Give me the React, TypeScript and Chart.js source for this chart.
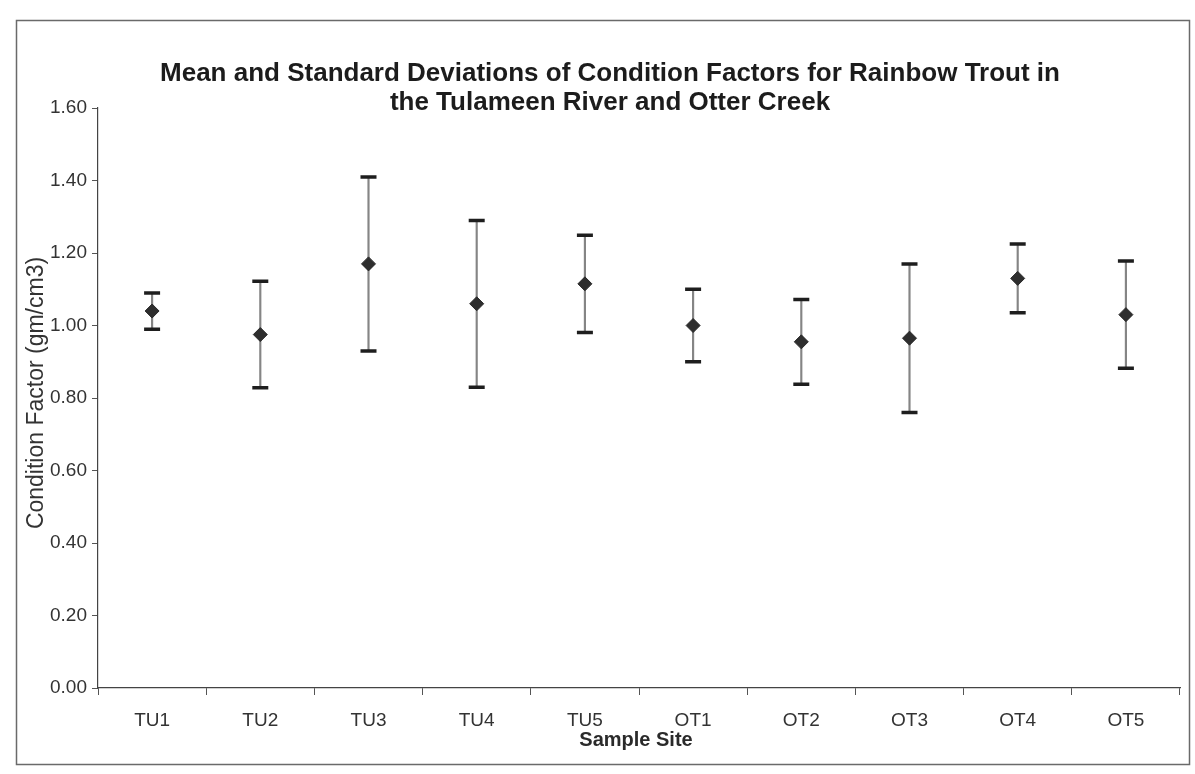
import React, { useEffect, useRef } from "react";
import { Chart, registerables } from "chart.js";

Chart.register(...registerables);

// ---- Data ----
const sites = ["TU1", "TU2", "TU3", "TU4", "TU5", "OT1", "OT2", "OT3", "OT4", "OT5"];
const meanCF = [1.04, 0.975, 1.17, 1.06, 1.115, 1.0, 0.955, 0.965, 1.13, 1.03];
const sdCF = [0.05, 0.147, 0.24, 0.23, 0.134, 0.1, 0.117, 0.205, 0.095, 0.148];
const yMin = 0;
const yMax = 1.6;
const yStep = 0.2;
const titleLines = [
  "Mean and Standard Deviations of Condition Factors for Rainbow Trout in",
  "the Tulameen River and Otter Creek",
];
const yAxisTitle = "Condition Factor (gm/cm3)";
const xAxisTitle = "Sample Site";

const FONT = '"Liberation Sans", Arial, Helvetica, sans-serif';

const decor = {
  id: "decor",
  beforeDraw(chart: any) {
    const { ctx, width, height } = chart;
    ctx.save();
    ctx.fillStyle = "#ffffff";
    ctx.fillRect(0, 0, width, height);
    ctx.strokeStyle = "#6a6a6a";
    ctx.lineWidth = 1.5;
    ctx.strokeRect(16.5, 20.5, 1173, 744);
    ctx.restore();
  },
  afterDraw(chart: any) {
    const { ctx } = chart;
    ctx.save();
    // Title
    ctx.fillStyle = "#1c1c1c";
    ctx.font = `bold 26px ${FONT}`;
    ctx.textAlign = "center";
    ctx.textBaseline = "middle";
    ctx.fillText(titleLines[0], 610, 74);
    ctx.fillText(titleLines[1], 610, 103);
    // X axis title
    ctx.fillStyle = "#2a2a2a";
    ctx.font = `bold 20px ${FONT}`;
    ctx.fillText(xAxisTitle, 636, 740);
    // Y axis title
    ctx.translate(37, 393);
    ctx.rotate(-Math.PI / 2);
    ctx.font = `23px ${FONT}`;
    ctx.fillStyle = "#333333";
    ctx.fillText(yAxisTitle, 0, 0);
    ctx.restore();
  },
};

export default function App() {
  const ref = useRef<HTMLCanvasElement>(null);

  useEffect(() => {
    const lo = meanCF.map((m, i) => m - sdCF[i]);
    const hi = meanCF.map((m, i) => m + sdCF[i]);
    const chart = new Chart(ref.current as HTMLCanvasElement, {
      type: "bar",
      data: {
        labels: sites,
        datasets: [
          {
            type: "bar",
            data: sites.map((_, i) => [lo[i], hi[i]]) as any,
            backgroundColor: "#858585",
            borderWidth: 0,
            barThickness: 1.5,
            order: 3,
          } as any,
          {
            type: "line",
            data: hi,
            showLine: false,
            pointStyle: "line",
            pointRadius: 8,
            pointBorderWidth: 3.5,
            pointBorderColor: "#1e1e1e",
            pointBackgroundColor: "#1e1e1e",
            order: 2,
          } as any,
          {
            type: "line",
            data: lo,
            showLine: false,
            pointStyle: "line",
            pointRadius: 8,
            pointBorderWidth: 3.5,
            pointBorderColor: "#1e1e1e",
            pointBackgroundColor: "#1e1e1e",
            order: 2,
          } as any,
          {
            type: "line",
            data: meanCF,
            showLine: false,
            pointStyle: "rectRot",
            pointRadius: 7,
            pointBorderWidth: 1,
            pointBorderColor: "#2a2a2a",
            pointBackgroundColor: "#2e2e2e",
            order: 1,
          } as any,
        ],
      },
      options: {
        responsive: false,
        animation: false,
        events: [],
        layout: { padding: { left: 0, top: 108, right: 15, bottom: 0 } },
        plugins: {
          legend: { display: false },
          tooltip: { enabled: false },
          title: { display: false },
        },
        scales: {
          x: {
            type: "category",
            offset: true,
            grid: {
              display: true,
              offset: true,
              drawOnChartArea: false,
              drawTicks: true,
              tickLength: 7,
              color: "#555555",
              lineWidth: 1,
            },
            border: { display: true, color: "#444444", width: 1.2 },
            ticks: {
              color: "#333333",
              font: { family: FONT, size: 19 },
              padding: 14,
              maxRotation: 0,
              autoSkip: false,
            },
            afterFit(scale: any) {
              scale.height = 86;
            },
          },
          y: {
            min: yMin,
            max: yMax,
            ticks: {
              stepSize: yStep,
              color: "#333333",
              font: { family: FONT, size: 19 },
              padding: 5,
              callback: (v: any) => Number(v).toFixed(2),
            },
            grid: {
              display: true,
              drawOnChartArea: false,
              drawTicks: true,
              tickLength: 6,
              color: "#555555",
            },
            border: { display: true, color: "#444444", width: 1.2 },
            afterFit(scale: any) {
              scale.width = 98;
            },
          },
        },
      },
      plugins: [decor],
    });
    return () => chart.destroy();
  }, []);

  return (
    <div style={{ position: "absolute", left: 0, top: 0, width: 1195, height: 774, background: "#fff" }}>
      <canvas ref={ref} width={1195} height={774} style={{ display: "block" }} />
    </div>
  );
}
